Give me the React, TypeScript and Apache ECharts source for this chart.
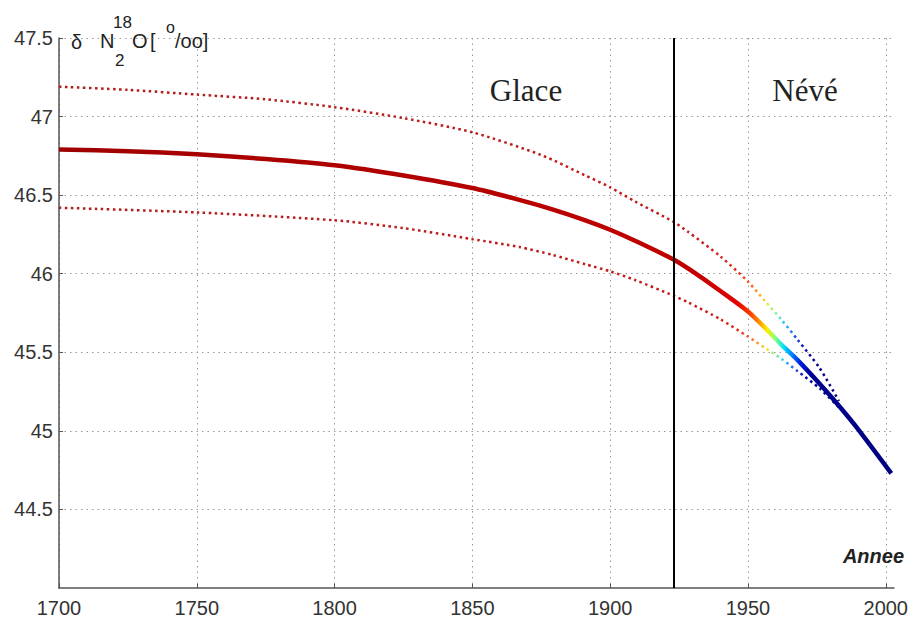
import React, { useEffect, useRef } from "react";
import * as echarts from "echarts";

// ---- data ----
const xTicks = [1700, 1750, 1800, 1850, 1900, 1950, 2000];
const yTicks = [44.5, 45, 45.5, 46, 46.5, 47, 47.5];

const centralYears = [1700, 1725, 1750, 1775, 1800, 1825, 1850, 1867, 1879, 1891, 1900, 1909, 1923, 1932, 1940, 1950, 1956, 1962, 1968, 1976, 1983, 1990, 2002];
const centralValues = [46.79, 46.78, 46.76, 46.73, 46.69, 46.625, 46.545, 46.47, 46.41, 46.34, 46.28, 46.21, 46.09, 45.99, 45.89, 45.76, 45.66, 45.55, 45.45, 45.30, 45.16, 45.01, 44.73];

const upperYears = [1700, 1725, 1750, 1775, 1800, 1825, 1850, 1875, 1891, 1900, 1909, 1923, 1928, 1940, 1950, 1956, 1962, 1968, 1976, 1983];
const upperValues = [47.19, 47.17, 47.14, 47.11, 47.06, 46.99, 46.90, 46.755, 46.625, 46.55, 46.46, 46.33, 46.27, 46.11, 45.95, 45.83, 45.71, 45.58, 45.40, 45.19];

const lowerYears = [1700, 1750, 1800, 1825, 1850, 1867, 1879, 1891, 1900, 1909, 1923, 1928, 1940, 1950, 1956, 1962, 1968, 1976, 1983];
const lowerValues = [46.42, 46.39, 46.34, 46.29, 46.22, 46.17, 46.12, 46.06, 46.015, 45.96, 45.86, 45.82, 45.71, 45.60, 45.53, 45.46, 45.38, 45.27, 45.15];

const boundaryYear = 1923;

// ---- styles ----
const mainStops: [number, string][] = [
  [1700, "#a00000"], [1930, "#c00000"], [1946, "#e00000"], [1951, "#ff4000"],
  [1954, "#ff9000"], [1957, "#ffee00"], [1960, "#80ff80"], [1963, "#00e0ff"],
  [1966, "#0080ff"], [1969, "#0020e0"], [1973, "#000090"], [2003, "#000080"],
];
const dottedStops: [number, string][] = [
  [1700, "#b01c1c"], [1930, "#c41a1a"], [1946, "#e02a1a"], [1951, "#ff5a20"],
  [1954, "#ffa020"], [1957, "#f0e820"], [1960, "#80f0a0"], [1963, "#20d0f0"],
  [1966, "#2070ff"], [1969, "#1020d0"], [1973, "#000090"], [2003, "#000080"],
];

function gradientFor(years: number[], stops: [number, string][]) {
  const x0 = years[0];
  const x1 = years[years.length - 1];
  const cs: { offset: number; color: string }[] = [];
  for (let i = 0; i < stops.length; i++) {
    const [yr, c] = stops[i];
    if (yr <= x1) {
      cs.push({ offset: Math.max(0, (yr - x0) / (x1 - x0)), color: c });
    } else {
      cs.push({ offset: 1, color: c });
      break;
    }
  }
  return { type: "linear", x: 0, y: 0, x2: 1, y2: 0, colorStops: cs };
}

const pairs = (xs: number[], ys: number[]) => xs.map((x, i) => [x, ys[i]]);

const FONT = '"Liberation Sans", Arial, Helvetica, sans-serif';
const SERIF = '"Liberation Serif", "Times New Roman", serif';

export default function App() {
  const ref = useRef<HTMLDivElement>(null);

  useEffect(() => {
    if (!ref.current) return;
    const chart = echarts.init(ref.current, undefined, { renderer: "svg" });

    const txt = (text: string, x: number, y: number, font: string, align = "left") => ({
      type: "text",
      x,
      y,
      silent: true,
      style: { text, font, fill: "#222", align, verticalAlign: "middle" },
    });

    chart.setOption({
      animation: false,
      backgroundColor: "#ffffff",
      grid: { left: 59, right: 14, top: 38, bottom: 31 },
      xAxis: {
        type: "value",
        min: 1700,
        max: 2003,
        interval: 50,
        axisLine: { show: true, onZero: false, lineStyle: { color: "#555", width: 1.5 } },
        axisTick: { show: true, inside: true, length: 4, customValues: xTicks, lineStyle: { color: "#555" } },
        axisLabel: {
          customValues: xTicks,
          formatter: (v: number) => String(v),
          fontSize: 20,
          color: "#333",
          margin: 10,
          fontFamily: FONT,
        },
        splitLine: { show: true, lineStyle: { color: "#999", width: 1, type: [1.5, 4] } },
      },
      yAxis: {
        type: "value",
        min: 44,
        max: 47.5,
        interval: 0.5,
        axisLine: { show: true, onZero: false, lineStyle: { color: "#555", width: 1.5 } },
        axisTick: { show: true, inside: true, length: 4, customValues: yTicks, lineStyle: { color: "#555" } },
        axisLabel: {
          customValues: yTicks,
          formatter: (v: number) => String(v),
          fontSize: 20,
          color: "#333",
          margin: 6,
          fontFamily: FONT,
        },
        splitLine: { show: true, lineStyle: { color: "#999", width: 1, type: [1.5, 4] } },
      },
      series: [
        {
          type: "line",
          name: "upper",
          data: pairs(upperYears, upperValues),
          smooth: 0.25,
          symbol: "none",
          lineStyle: { width: 2.5, type: [2.5, 3.5], cap: "butt", color: gradientFor(upperYears, dottedStops) },
          z: 3,
        },
        {
          type: "line",
          name: "lower",
          data: pairs(lowerYears, lowerValues),
          smooth: 0.25,
          symbol: "none",
          lineStyle: { width: 2.5, type: [2.5, 3.5], cap: "butt", color: gradientFor(lowerYears, dottedStops) },
          z: 3,
        },
        {
          type: "line",
          name: "central",
          data: pairs(centralYears, centralValues),
          smooth: 0.25,
          symbol: "none",
          lineStyle: { width: 4.5, color: gradientFor(centralYears, mainStops) },
          z: 4,
          markLine: {
            silent: true,
            symbol: ["none", "none"],
            label: { show: false },
            lineStyle: { color: "#000", width: 2, type: "solid" },
            data: [{ xAxis: boundaryYear }],
          },
        },
      ],
      graphic: [
        txt("δ", 71, 42, `20px ${FONT}`),
        txt("N", 100, 41, `20px ${FONT}`),
        txt("2", 115, 60, `17px ${FONT}`),
        txt("18", 113, 22, `17px ${FONT}`),
        txt("O", 132, 41, `20px ${FONT}`),
        txt("[", 150, 41, `20px ${FONT}`),
        txt("o", 166, 27, `16px ${FONT}`),
        txt("/oo]", 175, 41, `20px ${FONT}`),
        txt("Glace", 526, 90, `31px ${SERIF}`, "center"),
        txt("Névé", 805, 90, `31px ${SERIF}`, "center"),
        txt("Annee", 904, 556, `italic bold 20px ${FONT}`, "right"),
      ],
    });

    return () => chart.dispose();
  }, []);

  return (
    <div
      ref={ref}
      style={{ position: "fixed", left: 0, top: 0, width: 911, height: 619, background: "#fff" }}
    />
  );
}
